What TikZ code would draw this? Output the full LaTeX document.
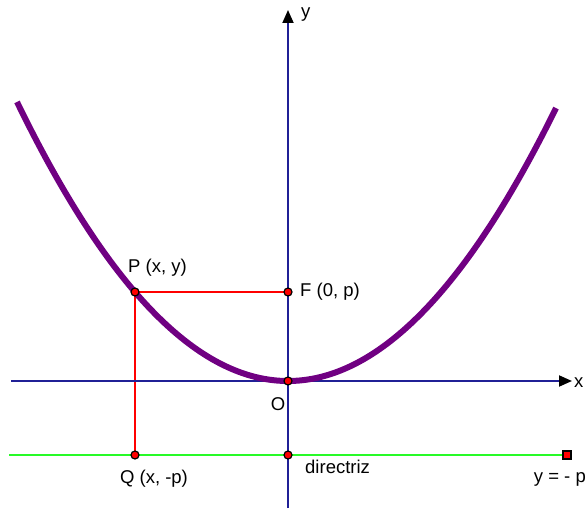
\documentclass[tikz,border=0pt]{standalone}
\usepackage{fontspec}
\setmainfont{Liberation Sans}
\usetikzlibrary{arrows.meta}
\definecolor{axisblue}{RGB}{32,32,150}
\definecolor{dirgreen}{RGB}{40,250,40}
\definecolor{curvepurple}{RGB}{112,0,130}
\begin{document}
\begin{tikzpicture}[x=1pt,y=-1pt,
  axis/.style={draw=axisblue,line width=1.8pt,-{Triangle[length=13pt,width=11pt,color=black]}},
  redline/.style={draw=red,line width=1.5pt},
  dirline/.style={draw=dirgreen,line width=2.5pt},
  curve/.style={draw=curvepurple,line width=6pt},
  pt/.style={circle,fill=red,draw=black,line width=1.2pt,inner sep=0pt,minimum size=8pt},
  lbl/.style={font=\fontsize{18.5}{20}\selectfont,inner sep=0pt}]
\useasboundingbox (0,0) rectangle (586,510);
% points
\coordinate (xs) at (11,381);
\coordinate (xe) at (572,381);
\coordinate (ys) at (288,508);
\coordinate (ye) at (288,10);
\coordinate (ds) at (9,455);
% directrix
\draw[dirline] (ds) -- (567,455) coordinate (E);
% red segments
\coordinate (P) at (135,292);
\coordinate (F) at (288,292);
\coordinate (Q) at (135,455);
\coordinate (D) at (288,455);
\coordinate (O) at (288,381);
\draw[redline] (Q) -- (P) -- (F);
% axes
\draw[axis] (xs) -- (xe);
\draw[axis] (ys) -- (ye);
% parabola
\draw[curve] plot[domain=-271:268,samples=120,smooth] ({288+\x},{381-38*(\x/100)^2});
% dots
\node[pt] (nP) at (P) {};
\node[pt] (nF) at (F) {};
\node[pt] (nQ) at (Q) {};
\node[pt] (nD) at (D) {};
\node[pt] (nO) at (O) {};
\node[pt,rectangle,minimum size=8pt] (nE) at (E) {};
% labels
\node[lbl,anchor=west] (ly) at (301,15) {y};
\node[lbl,anchor=west] (lx) at (574,383) {x};
\node[lbl,anchor=west] (lP) at (128,268) {P (x, y)};
\node[lbl,anchor=west] (lF) at (300,292) {F (0, p)};
\node[lbl] (lO) at (278,404) {O};
\node[lbl,anchor=west] (ld) at (305,467) {directriz};
\node[lbl] (lQ) at (154,479) {Q (x, -p)};
\node[lbl,anchor=east] (lyp) at (586,479) {y = - p};
\end{tikzpicture}
\end{document}
